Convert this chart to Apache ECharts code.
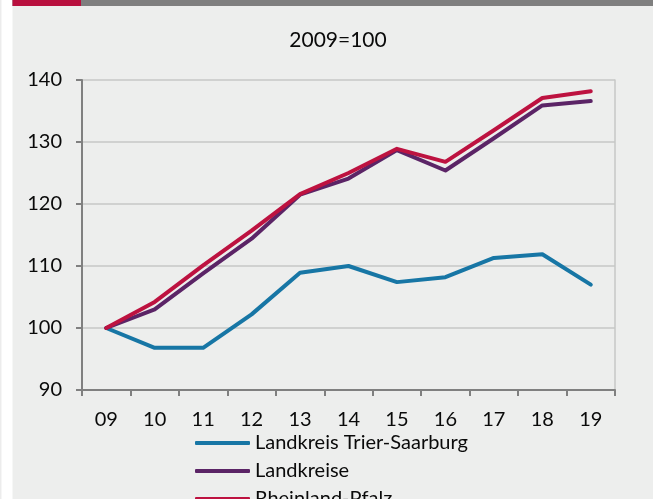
<!DOCTYPE html>
<html>
<head>
<meta charset="utf-8">
<script src="https://cdn.jsdelivr.net/npm/echarts@6/dist/echarts.min.js"></script>
<style>
  html, body { margin: 0; padding: 0; background: #ffffff; }
  #chart { width: 653px; height: 499px; }
</style>
</head>
<body>
<div id="chart"></div>
<script>
// Index 2009 = 100
const years = ['09', '10', '11', '12', '13', '14', '15', '16', '17', '18', '19'];
const trierSaarburg = [100, 96.8, 96.8, 102.2, 108.9, 110.0, 107.4, 108.2, 111.3, 111.9, 107.0];
const landkreise = [100, 103.0, 108.8, 114.4, 121.5, 124.1, 128.7, 125.4, 130.6, 135.9, 136.6];
const rheinlandPfalz = [100, 104.2, 110.1, 115.7, 121.6, 125.0, 128.9, 126.8, 131.9, 137.1, 138.2];
const yTicks = { min: 90, max: 140, step: 10 };

const FONT = 'Lato, "Noto Sans", sans-serif';
const COLORS = { trier: '#1776a5', kreise: '#5b2466', rlp: '#bd1240' };

const chart = echarts.init(document.getElementById('chart'), null, { renderer: 'canvas' });

function lineSeries(name, data, color) {
  return {
    name, type: 'line', data,
    symbol: 'none',
    lineStyle: { color, width: 4, cap: 'round', join: 'round' },
    itemStyle: { color },
    emphasis: { disabled: true },
    animation: false
  };
}

chart.setOption({
  backgroundColor: '#edeeed',
  animation: false,
  graphic: [
    { type: 'rect', shape: { x: 0, y: 0, width: 1.5, height: 499 }, style: { fill: '#ececec' }, silent: true },
    { type: 'rect', shape: { x: 1.5, y: 0, width: 11, height: 499 }, style: { fill: '#ffffff' }, silent: true },
    { type: 'rect', shape: { x: 12.5, y: 0, width: 640.5, height: 6 }, style: { fill: '#7f7f7f' }, silent: true },
    { type: 'rect', shape: { x: 12.5, y: 0, width: 68.5, height: 6 }, style: { fill: '#b8103e' }, silent: true },
    {
      type: 'text', x: 338, y: 40, silent: true,
      style: { text: '2009=100', fill: '#0a0a0a', font: '21px ' + FONT, textAlign: 'center', textVerticalAlign: 'middle' }
    }
  ],
  grid: { left: 82, right: 38, top: 80, bottom: 109, containLabel: false },
  legend: {
    orient: 'vertical',
    left: 190, top: 428,
    width: 300, height: 120,
    icon: 'roundRect',
    itemWidth: 55, itemHeight: 4,
    itemGap: 8,
    textStyle: { fontFamily: FONT, fontSize: 20, color: '#0a0a0a', padding: [0, 0, 0, 0] },
    data: ['Landkreis Trier-Saarburg', 'Landkreise', 'Rheinland-Pfalz'],
    selectedMode: false
  },
  xAxis: {
    type: 'category',
    data: years,
    boundaryGap: true,
    axisLine: { lineStyle: { color: '#808080', width: 2 } },
    axisTick: { show: true, length: 6, lineStyle: { color: '#808080', width: 2 } },
    axisLabel: { fontFamily: FONT, fontSize: 20, color: '#0a0a0a', margin: 20 },
    splitLine: { show: false }
  },
  yAxis: [
    {
      type: 'value',
      min: yTicks.min, max: yTicks.max, interval: yTicks.step,
      axisLine: { show: true, lineStyle: { color: '#808080', width: 2 } },
      axisTick: { show: true, length: 6, lineStyle: { color: '#808080', width: 2 } },
      axisLabel: { fontFamily: FONT, fontSize: 20, color: '#0a0a0a', margin: 20 },
      splitLine: { show: true, lineStyle: { color: '#c6c7c6', width: 1.5 } }
    },
    {
      type: 'value', position: 'right',
      min: yTicks.min, max: yTicks.max, interval: yTicks.step,
      axisLine: { show: true, lineStyle: { color: '#c6c7c6', width: 1.5 } },
      axisTick: { show: false }, axisLabel: { show: false }, splitLine: { show: false }
    }
  ],
  series: [
    lineSeries('Landkreis Trier-Saarburg', trierSaarburg, COLORS.trier),
    lineSeries('Landkreise', landkreise, COLORS.kreise),
    lineSeries('Rheinland-Pfalz', rheinlandPfalz, COLORS.rlp)
  ]
});
</script>
</body>
</html>
